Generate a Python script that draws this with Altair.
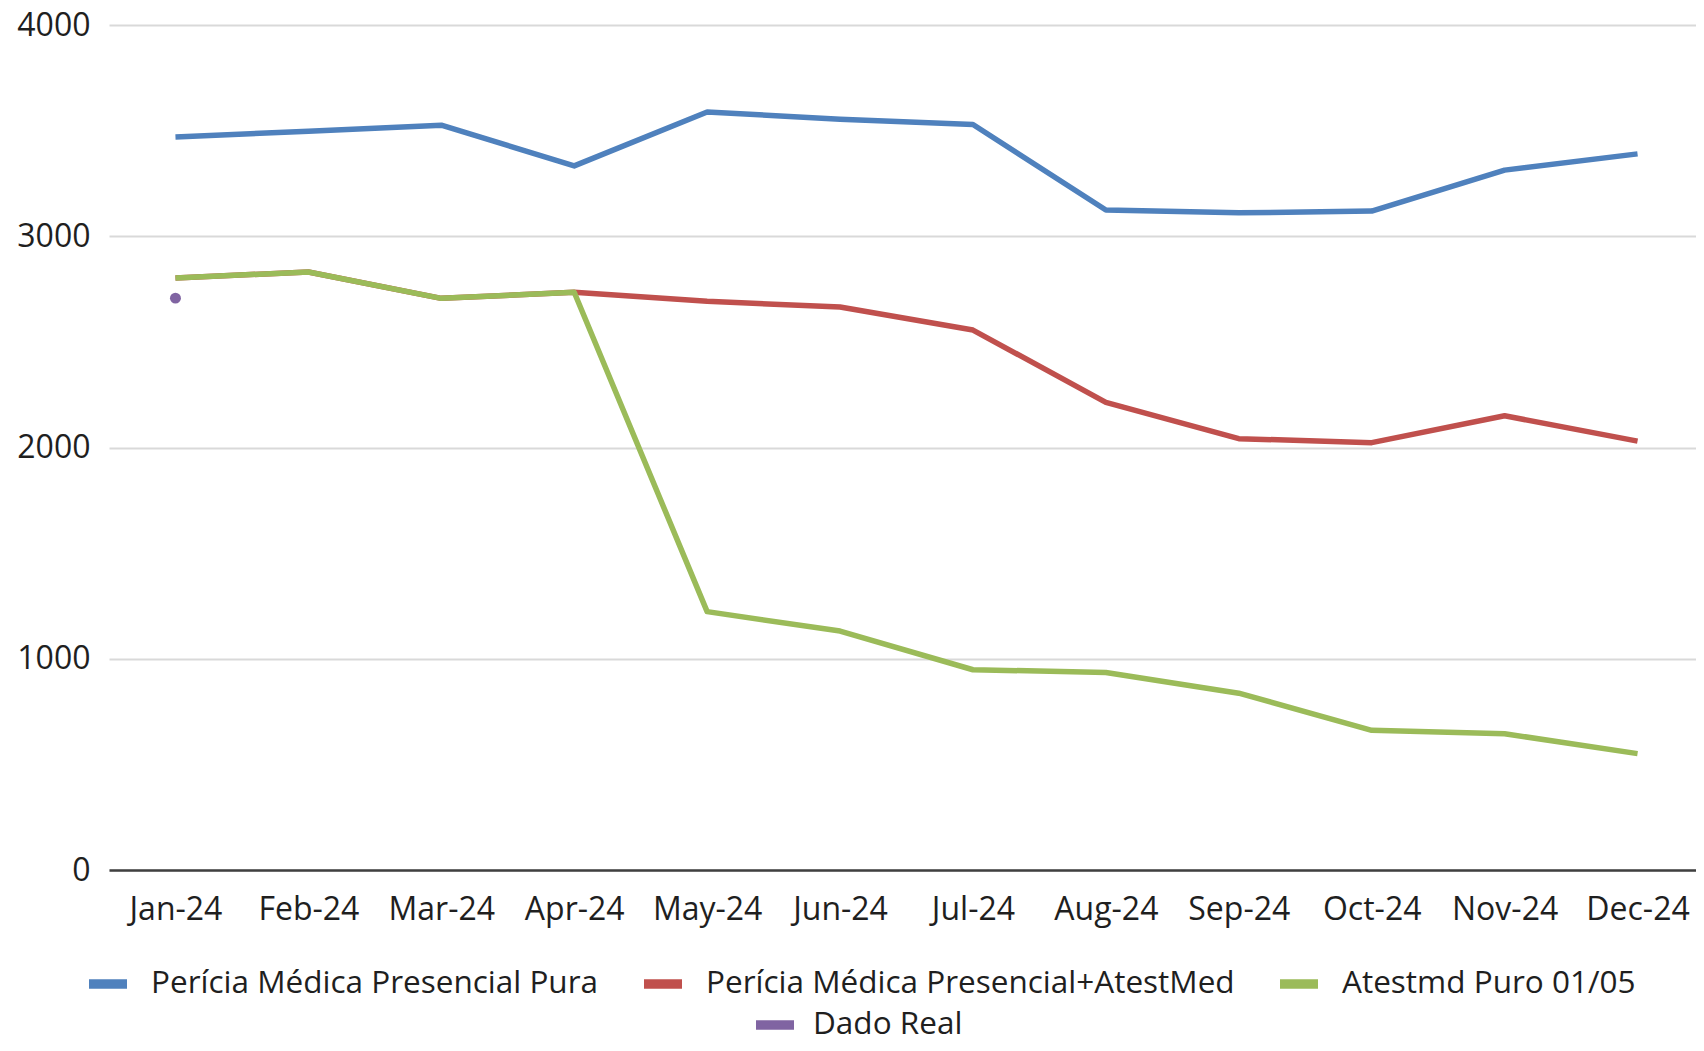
import altair as alt
import pandas as pd

# ---- data ----
months = ["Jan-24", "Feb-24", "Mar-24", "Apr-24", "May-24", "Jun-24",
          "Jul-24", "Aug-24", "Sep-24", "Oct-24", "Nov-24", "Dec-24"]

series_names = ["Perícia Médica Presencial Pura",
                "Perícia Médica Presencial+AtestMed",
                "Atestmd Puro 01/05"]

pericia_pura = [3470, 3497, 3526, 3333, 3588, 3554, 3529, 3124, 3111, 3119, 3313, 3390]
pericia_atestmed = [2802, 2831, 2706, 2735, 2692, 2665, 2556, 2214, 2042, 2023, 2150, 2030]
atestmd_puro = [2802, 2831, 2706, 2735, 1223, 1131, 948, 935, 837, 661, 645, 551]

real_months = ["Jan-24"]
real_values = [2707]
real_label = ["Dado Real"]

y_ticks = [0, 1000, 2000, 3000, 4000]

series_colors = ["#4F81BD", "#C0504D", "#9BBB59"]
real_color = "#8064A2"

FONT = "Open Sans"
TEXT = "#1F1F1F"
FS = 32
LFS = 31.5

rows = []
for name, vals in zip(series_names, [pericia_pura, pericia_atestmed, atestmd_puro]):
    for m, v in zip(months, vals):
        rows.append({"mes": m, "valor": v, "serie": name})
df = pd.DataFrame(rows)
real_df = pd.DataFrame({"mes": real_months, "valor": real_values, "ponto": real_label})

x_enc = alt.X("mes:N", sort=months, scale=alt.Scale(domain=months),
              axis=alt.Axis(title=None, labelAngle=0, labelFont=FONT, labelFontSize=FS,
                            labelColor=TEXT, labelPadding=24, ticks=False, grid=False,
                            domain=True, domainColor="#404040", domainWidth=2.5))
y_enc = alt.Y("valor:Q", scale=alt.Scale(domain=[0, 4000], nice=False),
              axis=alt.Axis(title=None, values=y_ticks, format="d", labelFont=FONT,
                            labelFontSize=FS, labelColor=TEXT, labelPadding=19, ticks=False,
                            domain=False, grid=True, gridColor="#D9D9D9", gridWidth=2))

color_legend = alt.Legend(title=None, orient="none", legendX=-25, legendY=935,
                          direction="horizontal", symbolType="stroke", symbolSize=1444,
                          symbolStrokeWidth=9.5, labelFont=FONT, labelFontSize=LFS,
                          labelColor=TEXT, labelOffset=19, columnPadding=26, padding=0,
                          labelLimit=0)
color_enc = alt.Color("serie:N", scale=alt.Scale(domain=series_names, range=series_colors),
                      legend=color_legend)

layers = []
for name in series_names:
    layers.append(
        alt.Chart(df)
        .transform_filter(alt.datum.serie == name)
        .mark_line(strokeWidth=5.5, strokeJoin="round")
        .encode(x=x_enc, y=y_enc, color=color_enc)
    )

real_legend = alt.Legend(title=None, orient="none", legendX=647, legendY=981,
                         symbolType="M-1,-0.25H1V0.25H-1Z", symbolSize=1444,
                         symbolStrokeWidth=0, symbolOpacity=1, labelFont=FONT,
                         labelFontSize=LFS, labelColor=TEXT, labelOffset=19, padding=0,
                         labelLimit=0)
points = (
    alt.Chart(real_df)
    .mark_circle(size=120, opacity=1)
    .encode(x=x_enc, y=y_enc,
            fill=alt.Fill("ponto:N", scale=alt.Scale(domain=real_label, range=[real_color]),
                          legend=real_legend))
)
layers.append(points)

chart = (
    alt.layer(*layers)
    .resolve_scale(color="shared")
    .properties(width=1595, height=845,
                autosize=alt.AutoSizeParams(type="none"),
                padding={"left": 101, "top": 17, "right": -8, "bottom": 173},
                background="white")
    .configure_view(stroke=None)
)

chart.save("out.html", embed_options={"renderer": "svg", "actions": False})
